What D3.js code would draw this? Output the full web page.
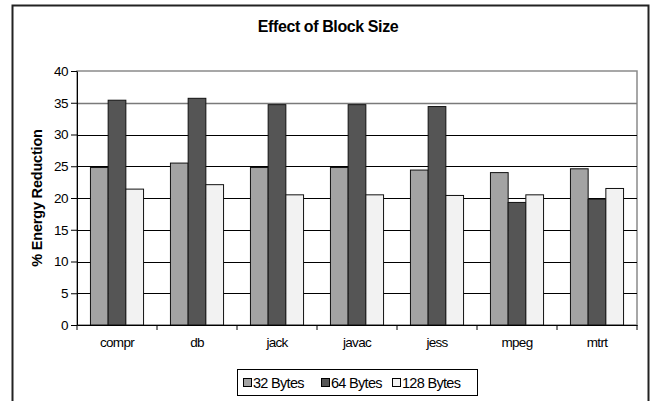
<!DOCTYPE html>
<html><head><meta charset="utf-8">
<script src="https://cdn.jsdelivr.net/npm/d3@7"></script>
<style>
html,body{margin:0;padding:0;background:#fff;}
svg{display:block;font-family:"Liberation Sans",Arial,sans-serif;}
</style></head>
<body>
<div id="chart"></div>
<script>
const categories = ["compr","db","jack","javac","jess","mpeg","mtrt"];
const seriesNames = ["32 Bytes","64 Bytes","128 Bytes"];
const bytes32 = [24.8, 25.5, 24.8, 24.8, 24.4, 24.0, 24.6];
const bytes64 = [35.4, 35.7, 34.7, 34.7, 34.4, 19.3, 19.8];
const bytes128 = [21.4, 22.1, 20.5, 20.5, 20.4, 20.5, 21.5];
const yTicks = [0,5,10,15,20,25,30,35,40];
const seriesValues = [bytes32, bytes64, bytes128];
const colors = ["#a3a3a3","#555555","#f2f2f2"];

(function(){
const W = 654, H = 401;
const svg = d3.select("#chart").append("svg").attr("width", W).attr("height", H);

// outer frame
svg.append("rect").attr("x",12.5).attr("y",5.5).attr("width",636).attr("height",420)
  .attr("fill","#fff").attr("stroke","#222").attr("stroke-width",2);

const pL = 77, pR = 637, pT = 71, pB = 325;
const x0 = d3.scaleBand().domain(categories).range([pL,pR]).paddingInner(0).paddingOuter(0);
const x1 = d3.scaleBand().domain(seriesNames).range([0,x0.bandwidth()]).paddingInner(0).paddingOuter(0.76);
const y = d3.scaleLinear().domain([0,40]).range([pB,pT]);

// plot area border (top/right gray)
svg.append("rect").attr("x",pL).attr("y",pT).attr("width",pR-pL).attr("height",pB-pT)
  .attr("fill","#fff").attr("stroke","#8a8a8a").attr("stroke-width",1.5);

// gridlines
svg.append("g").selectAll("line").data(yTicks.filter(d=>d>0 && d<40)).join("line")
  .attr("x1",pL).attr("x2",pR)
  .attr("y1",d=>Math.round(y(d))+0.5).attr("y2",d=>Math.round(y(d))+0.5)
  .attr("stroke",d=>d===35?"#7a7a7a":"#000")
  .attr("stroke-width",d=>d===35?1.6:1);

// bars
const groups = svg.append("g").selectAll("g").data(categories).join("g")
  .attr("transform",d=>`translate(${x0(d)},0)`);
groups.selectAll("rect").data((c,i)=>seriesNames.map((s,j)=>({s, v:seriesValues[j][i], j})))
  .join("rect")
  .attr("x",d=>x1(d.s)).attr("width",x1.bandwidth())
  .attr("y",d=>y(d.v)).attr("height",d=>y(0)-y(d.v))
  .attr("fill",d=>colors[d.j]).attr("stroke","#111").attr("stroke-width",1);

// y axis
const yAxis = d3.axisLeft(y).tickValues(yTicks).tickSize(6).tickPadding(3).tickSizeOuter(0);
const gy = svg.append("g").attr("transform",`translate(${pL},0)`).call(yAxis);
gy.select(".domain").attr("stroke","#000");
gy.selectAll(".tick line").attr("stroke","#000");
gy.selectAll("text").attr("font-size",13.5).attr("fill","#000").attr("letter-spacing",-0.5)
  .attr("font-family","'Liberation Sans',Arial,sans-serif");

// x axis
const gx = svg.append("g").attr("transform",`translate(0,${pB})`)
  .call(d3.axisBottom(x0).tickSize(0).tickPadding(0));
gx.select(".domain").attr("stroke","#000");
gx.selectAll("text").attr("font-size",13.5).attr("fill","#000").attr("dy",null).attr("y",22)
  .attr("font-family","'Liberation Sans',Arial,sans-serif").attr("letter-spacing",-0.7);
// boundary ticks
const bounds = categories.map(c=>x0(c)).concat([x0.range()[1]]);
svg.append("g").selectAll("line").data(bounds).join("line")
  .attr("x1",d=>d).attr("x2",d=>d).attr("y1",pB).attr("y2",pB+5).attr("stroke","#000");

// title
svg.append("text").attr("x",328).attr("y",32).attr("text-anchor","middle")
  .attr("font-size",16).attr("font-weight","bold").attr("letter-spacing",-0.4).text("Effect of Block Size");

// y label
svg.append("text").attr("transform",`translate(42,${(pT+pB)/2}) rotate(-90)`)
  .attr("text-anchor","middle").attr("font-size",14.5).attr("font-weight","bold").attr("letter-spacing",-0.2)
  .text("% Energy Reduction");

// legend
const lg = svg.append("g");
lg.append("rect").attr("x",237.5).attr("y",369.5).attr("width",240).attr("height",26)
  .attr("fill","#fff").attr("stroke","#000").attr("stroke-width",1);
const itemX = [243, 321, 392];
seriesNames.forEach((s,i)=>{
  lg.append("rect").attr("x",itemX[i]+0.5).attr("y",378.5).attr("width",8).attr("height",8)
    .attr("fill",colors[i]).attr("stroke","#000");
  lg.append("text").attr("x",itemX[i]+10).attr("y",388).attr("font-size",14.5).attr("letter-spacing",-0.7).text(s);
});
})();
</script>
</body></html>
